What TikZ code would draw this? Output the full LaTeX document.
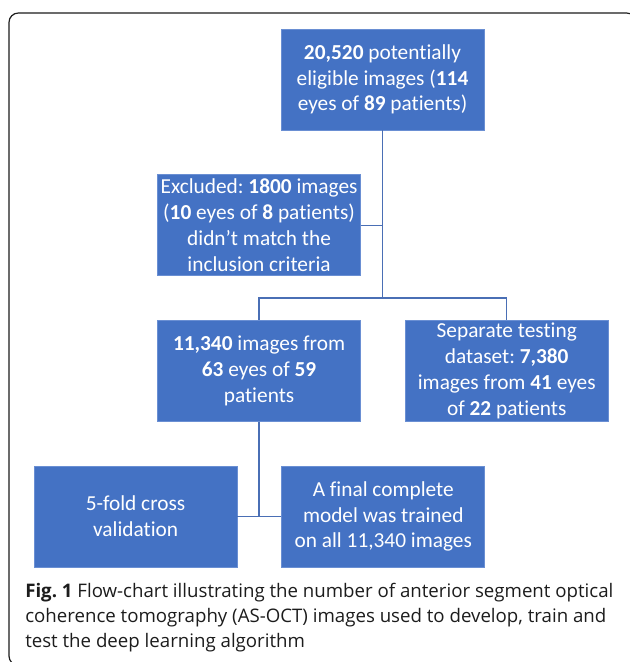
\documentclass[tikz,border=0pt]{standalone}
\usepackage{fontspec}
\setmainfont{Carlito}[Ligatures=NoCommon]
\newfontfamily\capfont{Open Sans}
\usetikzlibrary{positioning, calc}
\definecolor{flowblue}{HTML}{4472C4}
\definecolor{flowedge}{HTML}{6A8FD3}
\definecolor{flowline}{HTML}{4A6FB5}
\definecolor{flowink}{HTML}{1C1C1C}
\frenchspacing

\begin{document}
\begin{tikzpicture}[
        box/.style={draw=flowedge, fill=flowblue, line width=0.5pt, text=white, font=\fontsize{16}{19.3}\selectfont, align=center, inner sep=0pt, minimum width=152.25pt, minimum height=75.75pt},
        link/.style={flowline, line width=0.9pt}
    ]
        \useasboundingbox (0,0) rectangle (472.5pt,-496.5pt);
        \draw [flowink, line width=0.9pt, rounded corners=7pt] (6.75pt,-9.75pt) rectangle (477pt,-499pt);

        \node (pool) [box] at (286.9pt,-59.6pt) {\textbf{20,520} potentially\\eligible images (\textbf{114}\\eyes of \textbf{89} patients)};
        \node (excluded) [box, below=33pt of pool, xshift=-92.6pt] {Excluded: \textbf{1800} images\\(\textbf{10} eyes of \textbf{8} patients)\\didn’t match the\\inclusion criteria};
        \node (training) [box, below=33pt of excluded] {\textbf{11,340} images from\\\textbf{63} eyes of \textbf{59}\\patients};
        \node (testing) [box, right=33pt of training] {Separate testing\\dataset: \textbf{7,380}\\images from \textbf{41} eyes\\of \textbf{22} patients};
        \node (crossval) [box, below=33pt of training, xshift=-92.6pt] {5-fold cross\\validation};
        \node (final) [box, right=33pt of crossval] {A final complete\\model was trained\\on all 11,340 images};

        \coordinate (split) at ($(excluded.south)!0.5!(training.north)$);
        \draw [link] (pool.south) -- (pool.south |- split);
        \draw [link] (excluded.east) -- (excluded.east -| pool.south);
        \draw [link] (training.north) |- (split) -| (testing.north);
        \draw [link] (training.south) -- (training.south |- crossval.east);
        \draw [link] (crossval.east) -- (final.west);

        \node (caption) [anchor=north west, align=left, inner sep=0pt, text=flowink, font=\capfont\fontsize{14}{18.75}\selectfont] at (18.75pt,-437.1pt) {\textbf{Fig. 1} Flow-chart illustrating the number of anterior segment optical\\coherence tomography (AS-OCT) images used to develop, train and\\test the deep learning algorithm};
    \end{tikzpicture}
\end{document}
